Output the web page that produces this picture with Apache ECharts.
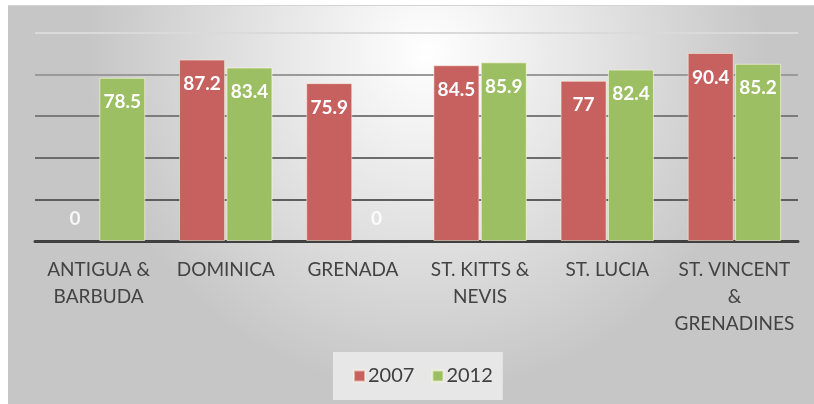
<!DOCTYPE html>
<html>
<head>
<meta charset="utf-8">
<script src="https://cdn.jsdelivr.net/npm/echarts@6/dist/echarts.min.js"></script>
<style>
html,body{margin:0;padding:0;background:#fff;}
#chart{width:814px;height:404px;}
</style>
</head>
<body>
<div id="chart"></div>
<script>
var categories = ["ANTIGUA &\nBARBUDA", "DOMINICA", "GRENADA", "ST. KITTS &\nNEVIS", "ST. LUCIA", "ST. VINCENT\n&\nGRENADINES"];
var seriesNames = ["2007", "2012"];
var values2007 = [0, 87.2, 75.9, 84.5, 77, 90.4];
var values2012 = [78.5, 83.4, 0, 85.9, 82.4, 85.2];
var yMin = 0, yMax = 100, yInterval = 20;

var chart = echarts.init(document.getElementById('chart'), null, {renderer: 'canvas'});

function items(vals) {
  return vals.map(function (v) {
    if (v === 0) {
      return {value: v, itemStyle: {borderWidth: 0}, label: {position: 'top', distance: 13, color: 'rgba(255,255,255,0.85)'}};
    }
    return {value: v};
  });
}

var labelStyle = {
  show: true,
  position: 'insideTop',
  distance: 15,
  color: '#ffffff',
  fontFamily: 'Lato',
  fontWeight: 'bold',
  fontSize: 19
};

var option = {
  animation: false,
  graphic: [{
    type: 'rect',
    z: -10,
    silent: true,
    shape: {x: 8, y: 5, width: 806, height: 399},
    style: {
      fill: new echarts.graphic.RadialGradient(0.52, 0.12, 0.85, [
        {offset: 0, color: '#ffffff'},
        {offset: 0.45, color: '#e6e6e6'},
        {offset: 1, color: '#c6c6c6'}
      ])
    }
  }, {
    type: 'line',
    z: -9,
    silent: true,
    shape: {x1: 8, y1: 5.5, x2: 814, y2: 5.5},
    style: {stroke: '#d4d4d4', lineWidth: 1}
  }],
  grid: {left: 35, right: 16, top: 33, bottom: 163, containLabel: false},
  legend: {
    data: seriesNames,
    left: 333,
    top: 352,
    itemWidth: 11,
    itemHeight: 11,
    itemGap: 17,
    padding: [14, 10, 14, 20],
    backgroundColor: '#e7e7e7',
    icon: 'rect',
    textStyle: {fontFamily: 'Lato', fontSize: 20, color: '#404040', padding: [0, 0, 0, -2]}
  },
  xAxis: {
    type: 'category',
    data: categories,
    axisLine: {show: true, lineStyle: {color: '#404040', width: 3}},
    axisTick: {show: false},
    axisLabel: {
      interval: 0,
      margin: 15,
      fontFamily: 'Lato',
      fontSize: 19,
      lineHeight: 27,
      color: '#434343',
      align: 'center'
    }
  },
  yAxis: {
    type: 'value',
    min: yMin,
    max: yMax,
    interval: yInterval,
    axisLabel: {show: false},
    axisLine: {show: false},
    axisTick: {show: false},
    splitLine: {
      show: true,
      lineStyle: {
        color: ['#404040', '#5e5e5e', '#6c6c6c', '#7c7c7c', '#9a9a9a', '#dadada'],
        width: 2
      }
    }
  },
  series: [{
    name: seriesNames[0],
    type: 'bar',
    data: items(values2007),
    barWidth: 46,
    barGap: '3%',
    itemStyle: {color: '#c66160', borderColor: 'rgba(255,250,230,0.5)', borderWidth: 1},
    label: labelStyle
  }, {
    name: seriesNames[1],
    type: 'bar',
    data: items(values2012),
    barWidth: 46,
    barGap: '3%',
    itemStyle: {color: '#9dbf63', borderColor: 'rgba(255,250,230,0.6)', borderWidth: 1},
    label: labelStyle
  }]
};
chart.setOption(option);
</script>
</body>
</html>
